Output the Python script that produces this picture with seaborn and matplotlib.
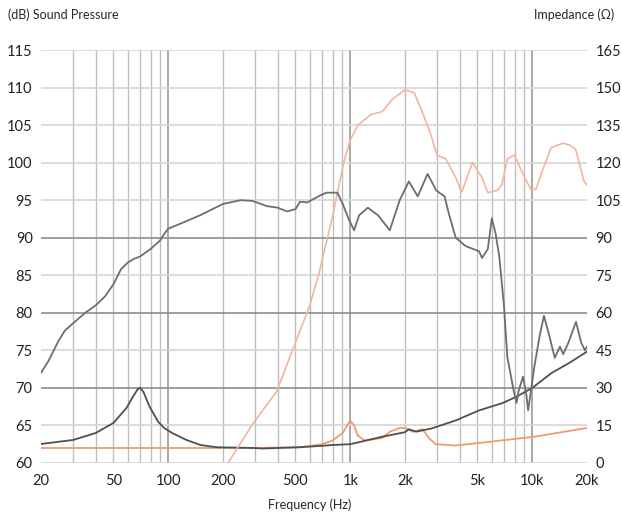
import numpy as np
import pandas as pd
import matplotlib
matplotlib.use("Agg")
import matplotlib.pyplot as plt
from matplotlib.ticker import FixedLocator, NullLocator, NullFormatter
import seaborn as sns

# woofer SPL (dB)
woofer_f = [20, 22, 25, 27, 30, 35, 40, 45, 50, 55, 60, 65, 70, 80, 90, 95, 100, 120, 150,
            200, 250, 290, 350, 400, 450, 500, 530, 580, 680, 740, 850, 910, 980, 1050,
            1120, 1250, 1420, 1650, 1870, 2100, 2350, 2660, 2970, 3300, 3500, 3800, 4300,
            5100, 5300, 5700, 6000, 6300, 6600, 7000, 7300, 7900, 8200, 8400, 8900, 9300,
            9500, 10300, 11000, 11600, 12400, 13300, 14200, 14800, 15800, 17400, 18600,
            19500, 20000]
woofer_db = [72, 73.6, 76.3, 77.6, 78.6, 80, 81, 82.2, 83.8, 85.8, 86.7, 87.2, 87.5, 88.5,
             89.6, 90.5, 91.2, 92, 93, 94.5, 95, 94.9, 94.2, 94, 93.5, 93.8, 94.8, 94.7,
             95.6, 96, 96, 94.5, 92.5, 91, 93, 94, 93, 91, 95, 97.5, 95.5, 98.5, 96.3,
             95.5, 93, 90, 88.9, 88.2, 87.3, 88.5, 92.6, 90.5, 87.4, 80.8, 74.1, 69.7, 68,
             69.5, 71.5, 69, 67, 73, 77, 79.6, 77, 74, 75.5, 74.5, 76, 78.8, 76, 75, 75.5]

# tweeter SPL (dB)
tweeter_f = [213, 293, 394, 507, 600, 681, 700, 800, 850, 930, 1000, 1100, 1300, 1500, 1700,
             2000, 2250, 2500, 2750, 3000, 3350, 3800, 4100, 4700, 5300, 5700, 6400, 6800,
             7300, 8000, 8500, 9100, 9900, 10500, 11400, 12700, 14800, 16200, 17300, 18000,
             19200, 20000]
tweeter_db = [60, 65.3, 69.5, 76.4, 81, 85.7, 87, 92.8, 96, 100.4, 103, 105, 106.4, 106.8,
              108.4, 109.7, 109.3, 106.6, 104, 101, 100.5, 98, 96.1, 100, 98, 96, 96.3, 97,
              100.5, 101, 99.5, 98, 96.3, 96.5, 99, 102, 102.6, 102.3, 101.8, 100.3, 97.6, 97]

# woofer impedance (ohm)
wimp_f = [20, 30, 40, 50, 59, 64, 68, 70, 73, 79, 88, 95, 105, 125, 150, 185, 293, 330,
          530, 680, 800, 1000, 1500, 2000, 2100, 2300, 2800, 3800, 5100, 6900, 8200,
          10000, 12800, 16000, 20000]
wimp_ohm = [7.6, 9.2, 12, 16, 22, 26.5, 29.5, 30, 28.5, 22.5, 16.5, 14, 12, 9.3, 7.2, 6.3,
            6, 5.8, 6.3, 6.8, 7.2, 7.5, 10.5, 12.3, 13.5, 12.5, 13.8, 17, 21, 24, 26.5, 30,
            36, 40, 44.5]

# tweeter impedance (ohm)
timp_f = [20, 100, 300, 530, 700, 800, 910, 1000, 1050, 1100, 1200, 1500, 1650, 1870, 2000,
          2200, 2500, 2700, 2950, 3800, 5100, 10300, 20000]
timp_ohm = [6, 6, 6, 6.3, 7.5, 9, 12, 17, 15, 11, 9, 10, 12.5, 14, 14, 12.5, 13.5, 10, 7.5,
            7, 8, 10.5, 14]

sns.set_style("white")
plt.rcParams['font.family'] = ['Lato', 'DejaVu Sans']

fig = plt.figure(figsize=(6.22, 5.17), dpi=100)
ax = fig.add_axes([41 / 622, 54 / 517, 546 / 622, 413 / 517])
ax2 = ax.twinx()

ax.set_xscale("log")
ax.set_xlim(20, 20000)
ax.set_ylim(60, 115)
ax2.set_ylim(0, 165)

# grid
minor_x = [f * m for f in (10, 100, 1000, 10000) for m in range(2, 10)]
for f in minor_x:
    if 20 < f < 20000:
        ax.axvline(f, color="#bdbdbd", lw=1.0, zorder=0)
for f in (100, 1000, 10000):
    ax.axvline(f, color="#999999", lw=1.2, zorder=0)
for y in range(60, 116, 5):
    c = "#8c8c8c" if y in (70, 80, 90) else "#d6d6d6"
    ax.axhline(y, color=c, lw=1.2, zorder=0)

sns.lineplot(x=timp_f, y=[60 + v / 3 for v in timp_ohm], ax=ax, color="#f29a6c", lw=1.3,
             estimator=None, sort=False)
sns.lineplot(x=wimp_f, y=[60 + v / 3 for v in wimp_ohm], ax=ax, color="#4f4f4f", lw=1.3,
             estimator=None, sort=False)
sns.lineplot(x=tweeter_f, y=tweeter_db, ax=ax, color="#f4b59c", lw=1.2,
             estimator=None, sort=False)
sns.lineplot(x=woofer_f, y=woofer_db, ax=ax, color="#6e6e6e", lw=1.3,
             estimator=None, sort=False)

xt = [20, 50, 100, 200, 500, 1000, 2000, 5000, 10000, 20000]
xl = ["20", "50", "100", "200", "500", "1k", "2k", "5k", "10k", "20k"]
ax.xaxis.set_major_locator(FixedLocator(xt))
ax.set_xticklabels(xl)
ax.xaxis.set_minor_locator(NullLocator())
ax.xaxis.set_minor_formatter(NullFormatter())
ax.set_yticks(range(60, 116, 5))
ax2.set_yticks(range(0, 166, 15))

for a in (ax, ax2):
    a.tick_params(length=0, labelsize=10.5, colors="#222222", pad=6)
    for s in a.spines.values():
        s.set_visible(False)
ax.tick_params(axis="x", pad=8)

fig.text(8 / 622, 1 - 15 / 517, "(dB) Sound Pressure", fontsize=9, va="center", ha="left")
fig.text(614 / 622, 1 - 15 / 517, "Impedance (Ω)", fontsize=9, va="center", ha="right")
fig.text(310 / 622, 1 - 505 / 517, "Frequency (Hz)", fontsize=9, va="center", ha="center")

fig.savefig("out.png", dpi=100)
